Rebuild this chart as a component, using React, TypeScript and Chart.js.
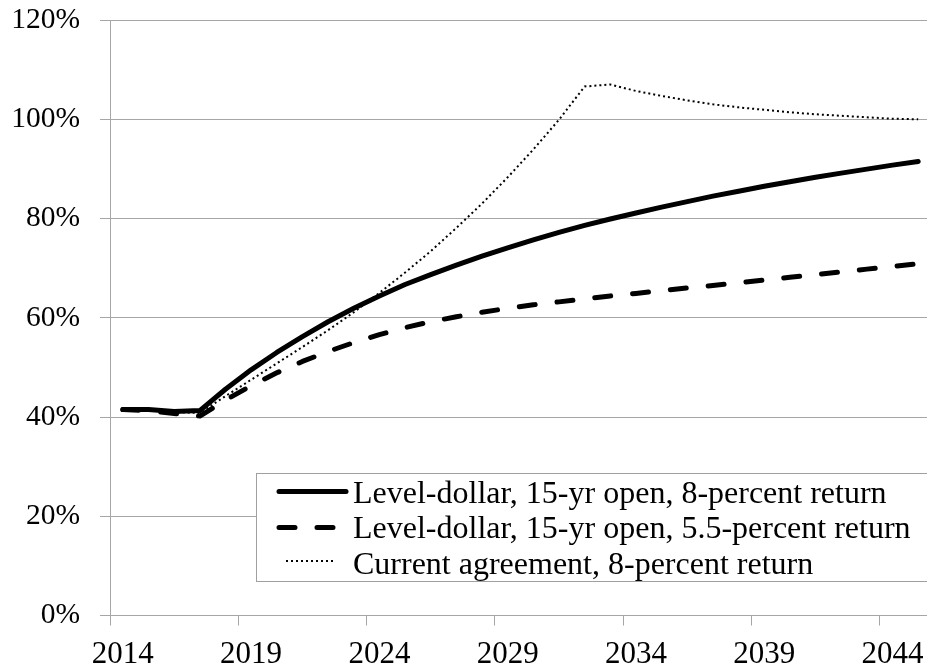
import React, { useEffect, useRef } from "react";
import { Chart, registerables } from "chart.js";

Chart.register(...registerables);

const years = [
  "2014", "2015", "2016", "2017", "2018", "2019", "2020", "2021",
  "2022", "2023", "2024", "2025", "2026", "2027", "2028", "2029",
  "2030", "2031", "2032", "2033", "2034", "2035", "2036", "2037",
  "2038", "2039", "2040", "2041", "2042", "2043", "2044", "2045",
];

const levelDollar8 = [
  41.5, 41.5, 41.1, 41.3, 45.6, 49.5, 53.0, 56.2,
  59.2, 61.9, 64.4, 66.7, 68.7, 70.6, 72.4, 74.1,
  75.7, 77.2, 78.6, 79.9, 81.1, 82.3, 83.4, 84.5,
  85.5, 86.5, 87.4, 88.3, 89.15, 89.95, 90.75, 91.5,
];

const levelDollar55 = [
  41.5, 41.3, 40.7, 40.2, 43.4, 46.3, 48.9, 51.2,
  53.2, 55.0, 56.6, 58.0, 59.2, 60.2, 61.1, 61.9,
  62.6, 63.2, 63.8, 64.4, 64.9, 65.45, 66.0, 66.5,
  67.05, 67.6, 68.15, 68.7, 69.25, 69.8, 70.35, 70.9,
];

const currentAgreement = [
  41.5, 41.5, 41.0, 40.8, 44.2, 47.5, 50.8, 54.1,
  57.5, 61.1, 65.0, 69.1, 73.4, 78.1, 83.0, 88.3,
  93.9, 99.9, 106.6, 107.0, 105.7, 104.7, 103.8, 103.0,
  102.4, 101.9, 101.4, 101.0, 100.7, 100.4, 100.1, 100.0,
];

const seriesLabels = [
  "Level-dollar, 15-yr open, 8-percent return",
  "Level-dollar, 15-yr open, 5.5-percent return",
  "Current agreement, 8-percent return",
];

const FONT = "'Liberation Serif', 'Times New Roman', serif";
const GRID = "#a6a6a6";

const legendPlugin = {
  id: "boxLegend",
  afterDraw(chart: any) {
    const ctx = chart.ctx;
    ctx.save();
    const bx = 256.5, by = 473.5, bw = 680, bh = 108;
    ctx.fillStyle = "#ffffff";
    ctx.fillRect(bx, by, bw, bh);
    ctx.strokeStyle = "#a0a0a0";
    ctx.lineWidth = 1;
    ctx.strokeRect(bx, by, bw, bh);
    const rows = [
      { ly: 491.5, ty: 502.5 },
      { ly: 527.5, ty: 538 },
      { ly: 561, ty: 573.5 },
    ];
    chart.data.datasets.forEach((ds: any, i: number) => {
      const r = rows[i];
      ctx.beginPath();
      ctx.strokeStyle = "#000";
      ctx.lineWidth = ds.borderWidth;
      ctx.lineCap = ds.borderCapStyle || "butt";
      ctx.setLineDash(ds.borderDash || []);
      if (i === 2) {
        ctx.moveTo(286, r.ly);
        ctx.lineTo(336, r.ly);
      } else if (i === 1) {
        ctx.moveTo(279, r.ly);
        ctx.lineTo(336, r.ly);
      } else {
        ctx.moveTo(279, r.ly);
        ctx.lineTo(346, r.ly);
      }
      ctx.stroke();
      ctx.setLineDash([]);
      ctx.fillStyle = "#000";
      ctx.font = `32px ${FONT}`;
      ctx.textAlign = "left";
      ctx.textBaseline = "alphabetic";
      ctx.fillText(ds.label, 353, r.ty);
    });
    ctx.restore();
  },
};

export default function App() {
  const ref = useRef<HTMLCanvasElement>(null);
  useEffect(() => {
    if (!ref.current) return;
    const chart = new Chart(ref.current, {
      type: "line",
      data: {
        labels: years,
        datasets: [
          {
            label: seriesLabels[0],
            data: levelDollar8,
            borderColor: "#000",
            borderWidth: 5,
            borderCapStyle: "round",
            borderJoinStyle: "round",
            pointRadius: 0,
            tension: 0,
          },
          {
            label: seriesLabels[1],
            data: levelDollar55,
            borderColor: "#000",
            borderWidth: 5,
            borderDash: [16, 22],
            borderCapStyle: "round",
            borderJoinStyle: "round",
            pointRadius: 0,
            tension: 0,
          },
          {
            label: seriesLabels[2],
            data: currentAgreement,
            borderColor: "#000",
            borderWidth: 2,
            borderDash: [2, 3],
            pointRadius: 0,
            tension: 0,
          },
        ],
      },
      options: {
        responsive: false,
        animation: false,
        layout: { padding: { top: 20, right: 0, left: 0, bottom: 0 } },
        plugins: { legend: { display: false }, tooltip: { enabled: false } },
        scales: {
          x: {
            type: "category",
            offset: true,
            grid: {
              offset: true,
              drawOnChartArea: false,
              drawTicks: true,
              tickLength: 10,
              color: (c: any) => (c.index % 5 === 0 ? GRID : "rgba(0,0,0,0)"),
            },
            border: { color: GRID, width: 1 },
            ticks: {
              autoSkip: false,
              maxRotation: 0,
              padding: 11,
              color: "#000",
              font: { family: FONT, size: 31 },
              callback: (_v: any, i: number) => (i % 5 === 0 ? years[i] : ""),
            },
            afterFit: (s: any) => {
              s.height = 671 - 615.5;
              s.paddingLeft = 0;
              s.paddingRight = 0;
            },
          },
          y: {
            min: 0,
            max: 120,
            grid: {
              color: GRID,
              drawTicks: true,
              tickLength: 10,
            },
            border: { color: GRID, width: 1 },
            ticks: {
              stepSize: 20,
              padding: 20,
              color: "#000",
              font: { family: FONT, size: 29.5 },
              callback: (v: any) => `${v}%`,
            },
            afterFit: (s: any) => {
              s.width = 110;
              s.paddingTop = 0;
              s.paddingBottom = 0;
            },
          },
        },
      },
      plugins: [legendPlugin],
    });
    return () => chart.destroy();
  }, []);
  return (
    <div
      style={{
        position: "fixed",
        left: 0,
        top: 0,
        width: 927,
        height: 671,
        overflow: "hidden",
        background: "#fff",
      }}
    >
      <canvas ref={ref} width={931} height={671} style={{ display: "block" }} />
    </div>
  );
}
